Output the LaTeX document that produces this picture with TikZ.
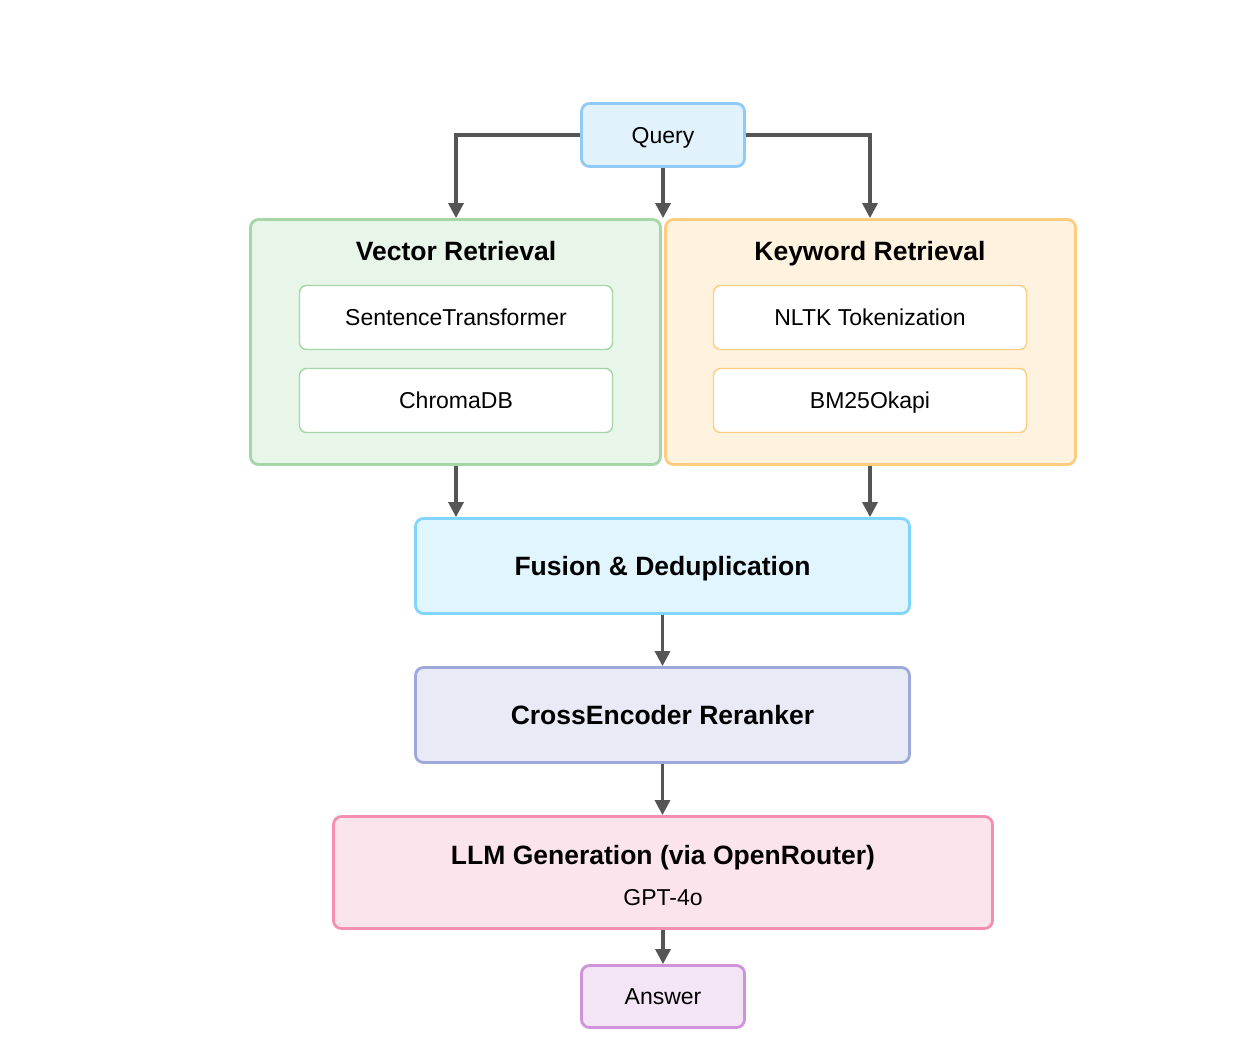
\documentclass[tikz,border=0pt]{standalone}
\usepackage{fontspec}
\setmainfont{Liberation Sans}
\usetikzlibrary{arrows.meta}
\definecolor{qfill}{HTML}{E1F2FC}
\definecolor{qdraw}{HTML}{90CAF9}
\definecolor{gfill}{HTML}{E8F5E9}
\definecolor{gdraw}{HTML}{A5D6A7}
\definecolor{ofill}{HTML}{FFF3E0}
\definecolor{odraw}{HTML}{FFCC80}
\definecolor{ffill}{HTML}{E1F5FE}
\definecolor{fdraw}{HTML}{81D4FA}
\definecolor{cfill}{HTML}{E8EAF6}
\definecolor{cdraw}{HTML}{9FA8DA}
\definecolor{lfill}{HTML}{FCE4EC}
\definecolor{ldraw}{HTML}{F48FB1}
\definecolor{afill}{HTML}{F3E5F5}
\definecolor{adraw}{HTML}{CE93D8}
\definecolor{arrowc}{HTML}{555555}
\tikzset{
  box/.style={draw, rounded corners=8pt, line width=2.8pt, inner sep=0pt, align=center},
  inbox/.style={draw, fill=white, rounded corners=7pt, line width=1.4pt, inner sep=0pt,
    minimum width=313pt, minimum height=64pt, text height=18.5pt, text depth=2.5pt,
    font=\fontsize{23}{27}\selectfont},
  reg/.style={font=\fontsize{23}{27}\selectfont, text height=18.5pt, text depth=2.5pt},
  bld/.style={font=\fontsize{26.5}{31}\selectfont\bfseries, text height=21pt, text depth=3pt},
  arr/.style={draw=arrowc, line width=3.2pt, -{Triangle[length=15pt,width=15pt]}},
}
\begin{document}
\begin{tikzpicture}[x=1pt,y=-1pt]
\useasboundingbox (0,0) rectangle (1252,1042);
% containers
\node[box, fill=gfill, draw=gdraw, minimum width=410pt, minimum height=245pt] (vec) at (455.5,342) {};
\node[box, fill=ofill, draw=odraw, minimum width=410pt, minimum height=245pt] (kw) at (870.5,342) {};
\node[bld] (vect) at (456,251) {Vector Retrieval};
\node[bld] (kwt) at (870,251) {Keyword Retrieval};
\node[inbox, draw=gdraw] (st) at (456,317.5) {SentenceTransformer};
\node[inbox, draw=gdraw] (chroma) at (456,400.5) {ChromaDB};
\node[inbox, draw=odraw] (nltk) at (870,317.5) {NLTK Tokenization};
\node[inbox, draw=odraw] (bm) at (870,400.5) {BM25Okapi};
% query
\node[box, fill=qfill, draw=qdraw, minimum width=163pt, minimum height=63pt, reg] (query) at (663,135) {Query};
% pipeline
\node[box, fill=ffill, draw=fdraw, minimum width=494pt, minimum height=95pt, bld] (fusion) at (662.5,566) {Fusion \& Deduplication};
\node[box, fill=cfill, draw=cdraw, minimum width=494pt, minimum height=95pt, bld] (cross) at (662.5,715) {CrossEncoder Reranker};
\node[box, fill=lfill, draw=ldraw, minimum width=659pt, minimum height=112pt] (llm) at (663,872.5) {};
\node[bld] (llmt) at (663,855) {LLM Generation (via OpenRouter)};
\node[reg] (llms) at (663,897) {GPT-4o};
\node[box, fill=afill, draw=adraw, minimum width=163pt, minimum height=62pt, reg] (answer) at (663,996.5) {Answer};
% connectors
\draw[arr] (query.west) -| (vect.north |- vec.north);
\draw[arr] (query.east) -| (kwt.north |- kw.north);
\draw[arr] (query.south) -- (query.south |- vec.north);
\draw[arr] (vect.north |- vec.south) -- (vect.north |- fusion.north);
\draw[arr] (kwt.north |- kw.south) -- (kwt.north |- fusion.north);
\draw[arr] (fusion.south) -- (cross.north);
\draw[arr] (cross.south) -- (cross.south |- llm.north);
\draw[arr] (llm.south) -- (answer.north);
\end{tikzpicture}
\end{document}
